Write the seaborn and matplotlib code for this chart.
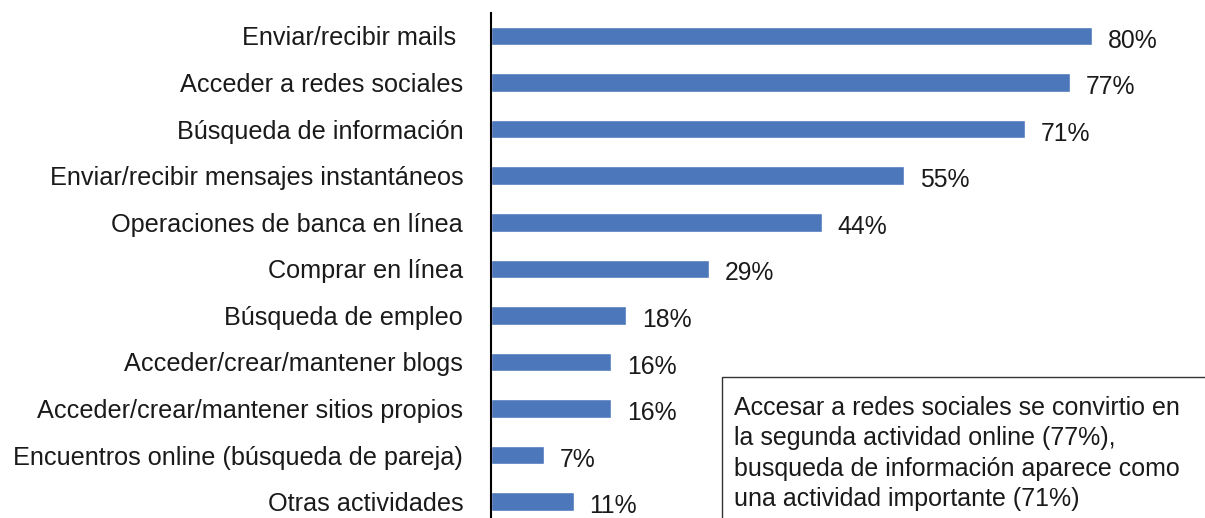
import matplotlib
matplotlib.use("Agg")
import matplotlib.pyplot as plt
import seaborn as sns
import pandas as pd
from matplotlib.patches import Rectangle

categories = [
    "Enviar/recibir mails ",
    "Acceder a redes sociales",
    "Búsqueda de información",
    "Enviar/recibir mensajes instantáneos",
    "Operaciones de banca en línea",
    "Comprar en línea",
    "Búsqueda de empleo",
    "Acceder/crear/mantener blogs",
    "Acceder/crear/mantener sitios propios",
    "Encuentros online (búsqueda de pareja)",
    "Otras actividades",
]
values = [80, 77, 71, 55, 44, 29, 18, 16, 16, 7, 11]
note = ("Accesar a redes sociales se convirtio en\n"
        "la segunda actividad online (77%),\n"
        "busqueda de información aparece como\n"
        "una actividad importante (71%)")

sns.set_style("white")
plt.rcParams['font.family'] = ['Liberation Sans', 'DejaVu Sans']

df = pd.DataFrame({"cat": categories, "val": values})

fig = plt.figure(figsize=(12.05, 5.18), dpi=100)
ax = fig.add_axes([491/1205, 0.0, 1 - 491/1205, 1 - 12.7/518])
sns.barplot(data=df, x="val", y="cat", orient="h", color="#4C77BA",
            width=0.4, saturation=1, ax=ax)
ax.set_xlim(0, 95)
ax.set_ylim(10.35, -0.5)
ax.set_xlabel("")
ax.set_ylabel("")
ax.set_xticks([])
for s in ["top", "right", "bottom"]:
    ax.spines[s].set_visible(False)
ax.spines["left"].set_color("black")
ax.spines["left"].set_linewidth(1.5)
ax.tick_params(axis="y", length=0, pad=20, labelsize=18.2)
for lbl in ax.get_yticklabels():
    lbl.set_color("#1a1a1a")

for i, v in enumerate(values):
    ax.text(v + 2.1, i + 0.1, f"{v}%", va="center", ha="left",
            fontsize=17.8, color="#1a1a1a")

rect = Rectangle((722/1205, -0.05), 0.5, 1 - 377/518 + 0.05,
                 transform=fig.transFigure, facecolor="white",
                 edgecolor="#333333", linewidth=1.0, zorder=5)
fig.patches.append(rect)
fig.text(734/1205, 1 - 396/518, note, transform=fig.transFigure,
         ha="left", va="top", fontsize=18, color="#1a1a1a",
         linespacing=1.33, zorder=6)

fig.savefig("out.png", dpi=100)
